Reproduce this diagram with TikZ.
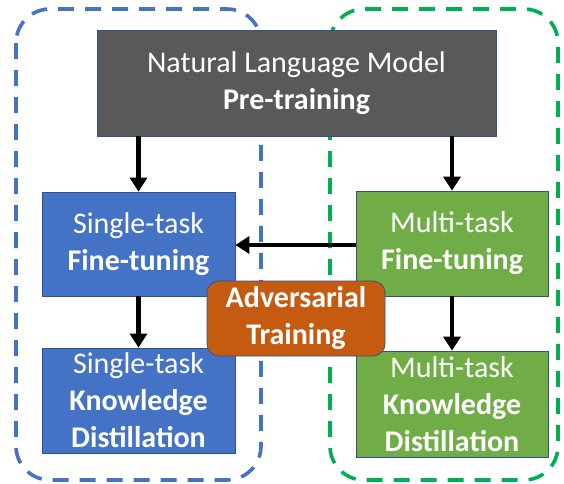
\documentclass[tikz,border=0pt]{standalone}
\usepackage{fontspec}
\setmainfont{Carlito}
\usetikzlibrary{arrows.meta}
\definecolor{dgray}{HTML}{595959}
\definecolor{mblue}{HTML}{4472C4}
\definecolor{mgreen}{HTML}{70AD47}
\definecolor{morange}{HTML}{C55A11}
\definecolor{dashgreen}{HTML}{00B050}
\definecolor{edgeblue}{HTML}{2F528F}
\begin{document}
\begin{tikzpicture}[x=1pt,y=-1pt,
  boxstyle/.style={draw=edgeblue,line width=0.8pt,text=white,align=center,
    font=\fontsize{30}{37}\selectfont,inner sep=0pt},
  container/.style={dash pattern=on 16pt off 11pt,line width=3.6pt,rounded corners=34pt},
  flow/.style={line width=4.2pt,-{Triangle[width=17pt,length=14pt]}}]
\useasboundingbox (0,0) rectangle (564,483);
% containers
\draw[container,draw=mblue] (16,9) rectangle (261,480);
\draw[container,draw=dashgreen] (330,9) rectangle (558,480);
% boxes
\node[boxstyle,fill=dgray,minimum width=399pt,minimum height=106pt] (pre) at (296.5,83) {Natural Language Model\\\textbf{Pre-training}};
\node[boxstyle,fill=mblue,minimum width=193pt,minimum height=104pt] (sft) at (138.5,244) {Single-task\\\textbf{Fine-tuning}};
\node[boxstyle,fill=mgreen,minimum width=192pt,minimum height=105pt] (mft) at (452,243.5) {Multi-task\\\textbf{Fine-tuning}};
\node[boxstyle,fill=mblue,minimum width=193pt,minimum height=105pt] (skd) at (138.5,400.5) {Single-task\\\textbf{Knowledge}\\\textbf{Distillation}};
\node[boxstyle,fill=mgreen,minimum width=192pt,minimum height=106pt] (mkd) at (452,404) {Multi-task\\\textbf{Knowledge}\\\textbf{Distillation}};
% arrows
\draw[flow] (pre.south -| sft.north) -- (sft.north);
\draw[flow] (pre.south -| mft.north) -- (mft.north);
\draw[flow] (mft.west |- 0,245) -- (sft.east |- 0,245);
\draw[flow] (sft.south) -- (skd.north);
\draw[flow] (mft.south) -- (mkd.north);
% adversarial
\node[boxstyle,fill=morange,rounded corners=12pt,minimum width=178pt,minimum height=75pt] (adv) at (296,318.5) {\textbf{Adversarial}\\\textbf{Training}};
\end{tikzpicture}
\end{document}
